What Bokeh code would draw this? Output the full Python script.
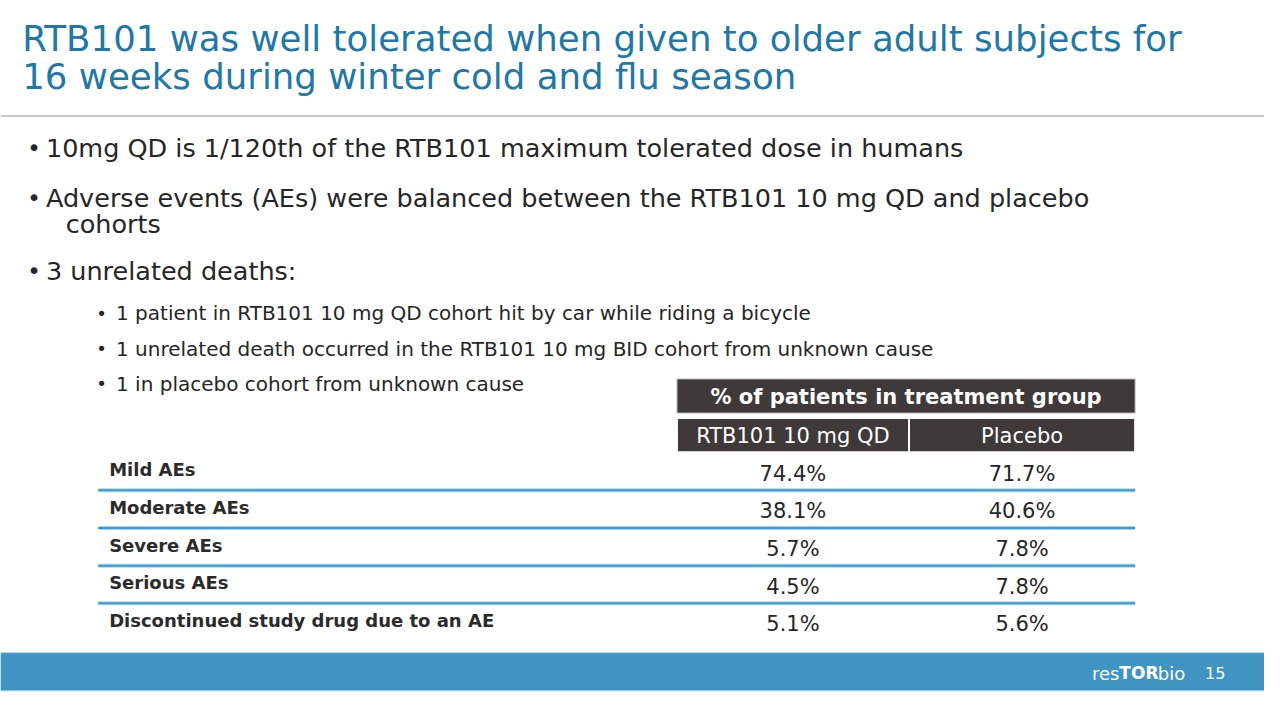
from bokeh.plotting import figure
from bokeh.models import Range1d
from bokeh.embed import file_html
from bokeh.resources import INLINE
from bokeh.core.properties import value

# ---------------- data ----------------
title_lines = ["RTB101 was well tolerated when given to older adult subjects for",
               "16 weeks during winter cold and flu season"]
bullet_lines = ["10mg QD is 1/120th of the RTB101 maximum tolerated dose in humans",
                "Adverse events (AEs) were balanced between the RTB101 10 mg QD and placebo",
                "3 unrelated deaths:"]
bullet_continuation = "cohorts"
sub_bullets = ["1 patient in RTB101 10 mg QD cohort hit by car while riding a bicycle",
               "1 unrelated death occurred in the RTB101 10 mg BID cohort from unknown cause",
               "1 in placebo cohort from unknown cause"]
table_header = "% of patients in treatment group"
col_headers = ["RTB101 10 mg QD", "Placebo"]
row_labels = ["Mild AEs", "Moderate AEs", "Severe AEs", "Serious AEs",
              "Discontinued study drug due to an AE"]
rtb_values = [74.4, 38.1, 5.7, 4.5, 5.1]
placebo_values = [71.7, 40.6, 7.8, 7.8, 5.6]
logo_parts = ["res", "TOR", "bio"]
page_number = "15"

# ---------------- figure ----------------
W, H = 1264, 704
p = figure(width=W, height=H, x_range=Range1d(0, 1280), y_range=Range1d(720, 0),
           output_backend="svg", toolbar_location=None, min_border=0,
           x_axis_location=None, y_axis_location=None)
p.grid.visible = False
p.outline_line_color = None
p.background_fill_color = "white"
p.border_fill_color = "white"

FONT = value("DejaVu Sans")
TITLE_C = "#1f78a6"
TEXT_C = "#262626"

# title
p.text(x=[22] * len(title_lines), y=[38.5 + 39 * i for i in range(len(title_lines))],
       text=title_lines, text_font=FONT, text_font_size="35.6px", text_color=TITLE_C,
       text_baseline="middle", text_align="left")
p.segment(x0=[0], y0=[118], x1=[1280], y1=[118], line_color="#c9c9c9", line_width=2)

# bullets
b_y = [151, 201.5, 277]
p.text(x=[27] * 3, y=b_y, text=["\u2022"] * 3, text_font=FONT, text_font_size="23px",
       text_color=TEXT_C, text_baseline="middle")
p.text(x=[46] * 3, y=b_y, text=bullet_lines, text_font=FONT, text_font_size="25.5px",
       text_color=TEXT_C, text_baseline="middle")
p.text(x=[66], y=[229], text=[bullet_continuation], text_font=FONT, text_font_size="25.5px",
       text_color=TEXT_C, text_baseline="middle")
s_y = [320, 356, 392]
p.text(x=[97] * 3, y=s_y, text=["\u2022"] * 3, text_font=FONT, text_font_size="18px",
       text_color=TEXT_C, text_baseline="middle")
p.text(x=[117] * 3, y=s_y, text=sub_bullets, text_font=FONT, text_font_size="20px",
       text_color=TEXT_C, text_baseline="middle")

# table header
HDR = "#3d3a39"
p.quad(left=[685], right=[1149], top=[387], bottom=[422], fill_color=HDR,
       line_color="#c8c8c8", line_width=1)
col_left = [685, 920]
col_right = [920, 1149]
col_center = [(a + b) / 2 for a, b in zip(col_left, col_right)]
p.quad(left=col_left, right=col_right, top=[427] * 2, bottom=[462] * 2,
       fill_color=HDR, line_color="white", line_width=2)
p.text(x=[917], y=[406], text=[table_header], text_font=FONT, text_font_style="bold",
       text_font_size="21px", text_color="white", text_align="center", text_baseline="middle")
p.text(x=col_center, y=[445] * 2, text=col_headers, text_font=FONT,
       text_font_size="21px", text_color="white", text_align="center", text_baseline="middle")

# table rows
row_y = [482 + 38.5 * i for i in range(len(row_labels))]
p.text(x=[110] * len(row_labels), y=[y - 2 for y in row_y], text=row_labels, text_font=FONT,
       text_font_style="bold", text_font_size="18px", text_color="#2b2b2b",
       text_align="left", text_baseline="middle")
p.text(x=[col_center[0]] * len(rtb_values), y=[y + 2 for y in row_y],
       text=[f"{v:.1f}%" for v in rtb_values], text_font=FONT, text_font_size="21px",
       text_color=TEXT_C, text_align="center", text_baseline="middle")
p.text(x=[col_center[1]] * len(placebo_values), y=[y + 2 for y in row_y],
       text=[f"{v:.1f}%" for v in placebo_values], text_font=FONT, text_font_size="21px",
       text_color=TEXT_C, text_align="center", text_baseline="middle")
sep_y = [y + 19 for y in row_y[:-1]]
p.segment(x0=[99] * len(sep_y), y0=sep_y, x1=[1149] * len(sep_y), y1=sep_y,
          line_color="#a6d4ee", line_width=4)
p.segment(x0=[99] * len(sep_y), y0=sep_y, x1=[1149] * len(sep_y), y1=sep_y,
          line_color="#3f9ad0", line_width=2)

# footer band
p.quad(left=[0], right=[1280], top=[667], bottom=[706], fill_color="#4094c1",
       line_color="#a9d1e6", line_width=1)
p.text(x=[1133], y=[688], text=[logo_parts[0]], text_font=FONT, text_font_size="18px",
       text_color="white", text_baseline="middle", text_align="right")
p.text(x=[1133], y=[688], text=[logo_parts[1]], text_font=FONT, text_font_style="bold",
       text_font_size="17px", text_color="white", text_baseline="middle", text_align="left")
p.text(x=[1172], y=[688], text=[logo_parts[2]], text_font=FONT, text_font_size="18px",
       text_color="white", text_baseline="middle", text_align="left")
p.text(x=[1230], y=[688], text=[page_number], text_font=FONT, text_font_size="16px",
       text_color="white", text_baseline="middle", text_align="center")

open("out.html", "w").write(file_html(p, INLINE))
